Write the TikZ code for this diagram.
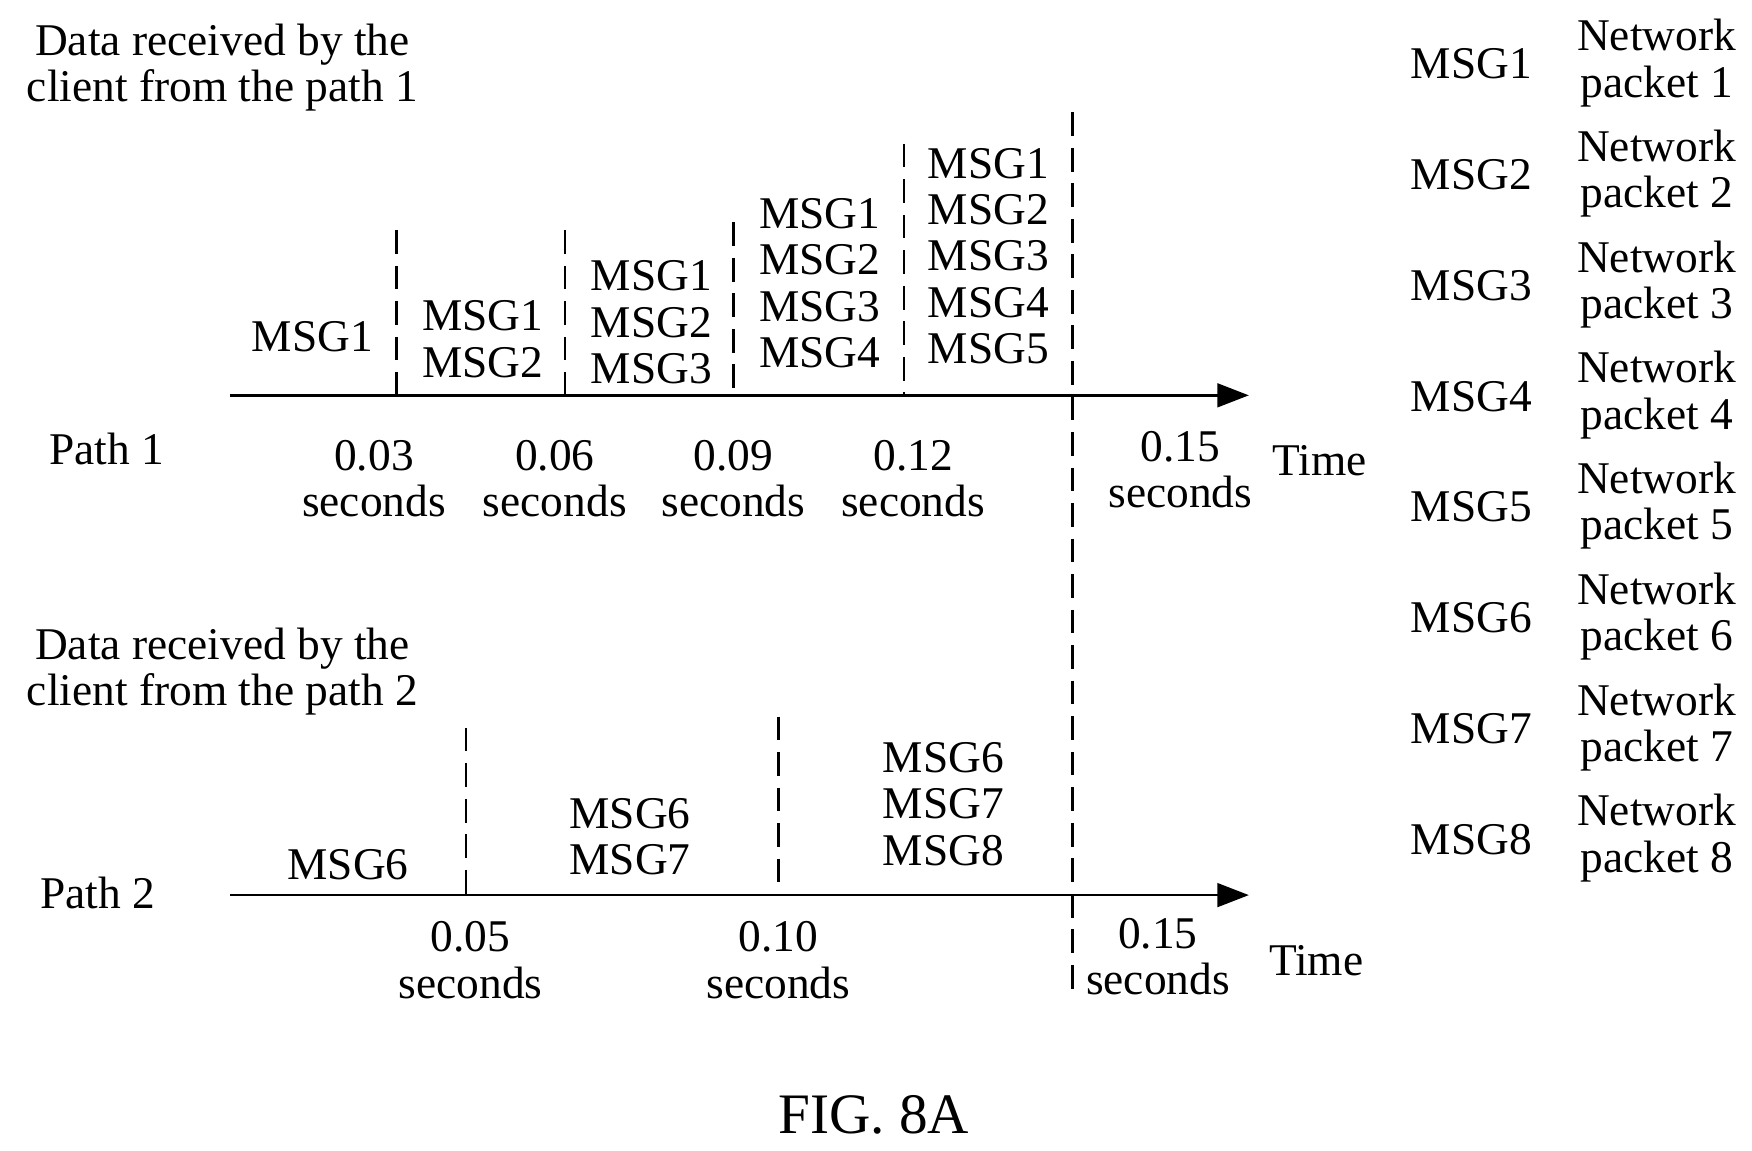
\documentclass[tikz,border=0pt]{standalone}
\usepackage{fontspec}
\setmainfont{Liberation Serif}
\usetikzlibrary{arrows.meta}
\begin{document}
\begin{tikzpicture}[x=0.2mm,y=-0.2mm,
  txt/.style={font=\fontsize{23}{23.5}\selectfont,align=center,inner sep=0pt},
  ax/.style={line width=1.4pt,-{Triangle[length=16pt,width=12pt]}},
  dsh/.style={line width=1.4pt,dash pattern=on 12pt off 6pt}]
\useasboundingbox (0,0) rectangle (1560,1024);
% Path 1
\node[txt] (t1) at (198,60) {Data received by the\\client from the path 1};
\coordinate (a1s) at (205,352); \coordinate (a1e) at (1112,352);
\draw[ax] (a1s) -- (a1e);
\coordinate (d1a) at (353,205); \coordinate (d1b) at (353,352);
\coordinate (d2a) at (503,205); \coordinate (d2b) at (503,352);
\coordinate (d3a) at (653,198); \coordinate (d3b) at (653,352);
\coordinate (d4a) at (805,128); \coordinate (d4b) at (805,352);
\coordinate (d5a) at (955,100); \coordinate (d5b) at (955,882);
\foreach \p in {1,...,5} \draw[dsh] (d\p a) -- (d\p b);
\node[txt] (m1) at (278,300) {MSG1};
\node[txt] (m2) at (430,302) {MSG1\\MSG2};
\node[txt] (m3) at (580,287) {MSG1\\MSG2\\MSG3};
\node[txt] (m4) at (730,252) {MSG1\\MSG2\\MSG3\\MSG4};
\node[txt] (m5) at (880,228) {MSG1\\MSG2\\MSG3\\MSG4\\MSG5};
\node[txt] (p1) at (95,400) {Path 1};
\node[txt] (s1) at (333,426) {0.03\\seconds};
\node[txt] (s2) at (494,426) {0.06\\seconds};
\node[txt] (s3) at (653,426) {0.09\\seconds};
\node[txt] (s4) at (813,426) {0.12\\seconds};
\node[txt] (s5) at (1051,418) {0.15\\seconds};
\node[txt] (tm1) at (1175,410) {Time};
% Path 2
\node[txt] (t2) at (198,598) {Data received by the\\client from the path 2};
\coordinate (a2s) at (205,797); \coordinate (a2e) at (1112,797);
\draw[ax] (a2s) -- (a2e);
\coordinate (e1a) at (415,648); \coordinate (e1b) at (415,797);
\coordinate (e2a) at (693,638); \coordinate (e2b) at (693,797);
\draw[dsh] (e1a) -- (e1b);
\draw[dsh] (e2a) -- (e2b);
\node[txt] (n1) at (310,770) {MSG6};
\node[txt] (n2) at (561,745) {MSG6\\MSG7};
\node[txt] (n3) at (840,716) {MSG6\\MSG7\\MSG8};
\node[txt] (p2) at (87,795) {Path 2};
\node[txt] (r1) at (419,855) {0.05\\seconds};
\node[txt] (r2) at (693,855) {0.10\\seconds};
\node[txt] (r3) at (1031,852) {0.15\\seconds};
\node[txt] (tm2) at (1172,855) {Time};
% Legend
\foreach \i in {1,...,8} {
  \node[txt] (l\i) at (1310,{57+(\i-1)*98.6}) {MSG\i};
  \node[txt] (k\i) at (1475,{56+(\i-1)*98.6}) {Network\\packet \i};
}
\node[txt,font=\fontsize{29}{30}\selectfont] (fig) at (778,993) {FIG. 8A};
\end{tikzpicture}
\end{document}
